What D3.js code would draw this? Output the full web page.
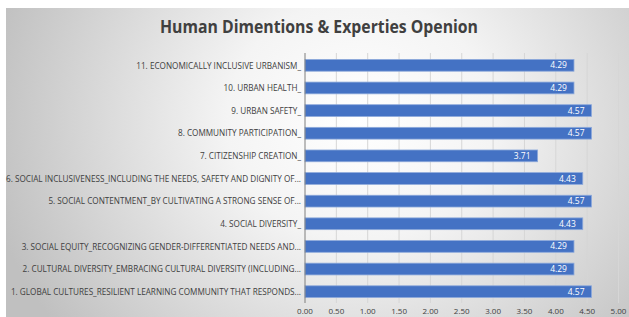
<!DOCTYPE html>
<html><head><meta charset="utf-8">
<script src="https://cdn.jsdelivr.net/npm/d3@7"></script>
<style>body{margin:0;background:#fff;overflow:hidden}</style></head>
<body><svg id="c" width="629" height="317"></svg>
<script>
const title = "Human Dimentions & Experties Openion";
const categories = [
  "1. GLOBAL CULTURES_RESILIENT LEARNING COMMUNITY THAT RESPONDS...",
  "2. CULTURAL DIVERSITY_EMBRACING CULTURAL DIVERSITY (INCLUDING...",
  "3. SOCIAL EQUITY_RECOGNIZING GENDER-DIFFERENTIATED NEEDS AND...",
  "4. SOCIAL DIVERSITY_",
  "5. SOCIAL CONTENTMENT_BY CULTIVATING A STRONG SENSE OF...",
  "6. SOCIAL INCLUSIVENESS_INCLUDING THE NEEDS, SAFETY AND DIGNITY OF...",
  "7. CITIZENSHIP CREATION_",
  "8. COMMUNITY PARTICIPATION_",
  "9. URBAN SAFETY_",
  "10. URBAN HEALTH_",
  "11. ECONOMICALLY INCLUSIVE URBANISM_"
];
const values = [4.57, 4.29, 4.29, 4.43, 4.57, 4.43, 3.71, 4.57, 4.57, 4.29, 4.29];
const tickValues = [0, 0.5, 1, 1.5, 2, 2.5, 3, 3.5, 4, 4.5, 5];

const svg = d3.select("#c");
const defs = svg.append("defs");
const g1 = defs.append("radialGradient").attr("id","bg")
  .attr("gradientUnits","userSpaceOnUse").attr("cx",360).attr("cy",120).attr("r",380)
  .attr("gradientTransform","translate(360,120) scale(1,0.9) translate(-360,-120)");
g1.append("stop").attr("offset","0").attr("stop-color","#ffffff");
g1.append("stop").attr("offset","0.35").attr("stop-color","#f4f4f4");
g1.append("stop").attr("offset","1").attr("stop-color","#c0c0c0");

svg.append("rect").attr("x",6).attr("y",8).attr("width",640).attr("height",330).attr("fill","url(#bg)");

const x = d3.scaleLinear().domain([0,5]).range([305, 618.5]);
const y = d3.scaleBand().domain(categories.slice().reverse()).range([54, 303]).paddingInner(0.48).paddingOuter(0.24);

// gridlines
svg.append("g").selectAll("line").data(tickValues.slice(1)).join("line")
  .attr("x1",d=>x(d)).attr("x2",d=>x(d)).attr("y1",53).attr("y2",303)
  .attr("stroke","#d6d6d6").attr("stroke-width",1);

// x tick labels
svg.append("g").selectAll("text").data(tickValues).join("text")
  .attr("x",d=>x(d)).attr("y",314.3).attr("text-anchor","middle")
  .attr("font-family","'Open Sans', sans-serif").attr("font-size",8).attr("fill","#404040")
  .text(d=>d3.format(".2f")(d));

// bars
svg.append("g").selectAll("rect").data(categories).join("rect")
  .attr("x",x(0)).attr("y",d=>y(d)).attr("width",(d,i)=>x(values[i])-x(0)).attr("height",y.bandwidth())
  .attr("fill","#4472c4").attr("stroke","#8eaadb").attr("stroke-width",0.8);

// value labels
svg.append("g").selectAll("text").data(categories).join("text")
  .attr("x",(d,i)=>x(values[i])-7).attr("y",d=>y(d)+y.bandwidth()/2+3)
  .attr("text-anchor","end").attr("font-family","'Open Sans', sans-serif").attr("font-size",8.5)
  .attr("fill","#ffffff").text((d,i)=>values[i].toFixed(2));

// axis line
svg.append("line").attr("x1",x(0)).attr("x2",x(0)).attr("y1",53).attr("y2",303)
  .attr("stroke","#7f7f7f").attr("stroke-width",1);

// category labels
const labs = svg.append("g").selectAll("text").data(categories).join("text")
  .attr("x",301).attr("y",d=>y(d)+y.bandwidth()/2+3.2)
  .attr("text-anchor","end").attr("font-family","'Open Sans', sans-serif").attr("font-size",8.8)
  .attr("fill","#404040").text(d=>d);
const ref = labs.filter((d,i)=>i===5).node().getComputedTextLength();
const f = 295/ref;
labs.each(function(){ const w=this.getComputedTextLength(); d3.select(this).attr("textLength",w*f).attr("lengthAdjust","spacingAndGlyphs"); });

// title
const t = svg.append("text").attr("x",319).attr("y",33).attr("text-anchor","middle")
  .attr("font-family","'Open Sans', sans-serif").attr("font-weight","bold").attr("font-size",17.5)
  .attr("fill","#404040").text(title);
t.attr("textLength",318).attr("lengthAdjust","spacingAndGlyphs");
</script></body></html>
